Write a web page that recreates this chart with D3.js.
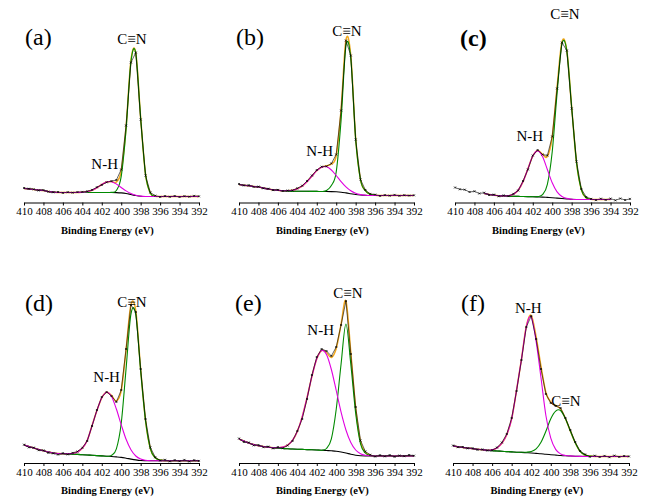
<!DOCTYPE html>
<html>
<head>
<meta charset="utf-8">
<script src="https://cdn.jsdelivr.net/npm/d3@7/dist/d3.min.js"></script>
<style>
  body { margin: 0; background: #fff; }
  svg { display: block; }
  .tick text { font-family: "Liberation Serif", "Times New Roman", serif; font-size: 11px; }
</style>
</head>
<body>
<svg id="chart" width="645" height="504"></svg>
<script>
// N 1s XPS spectra, six samples (a)-(f)
// binding energy grid (eV), shared by every curve
const energy = [410, 409.5, 409, 408.5, 408, 407.5, 407, 406.5, 406, 405.5, 405, 404.5, 404,
  403.5, 403, 402.5, 402, 401.5, 401, 400.5, 400, 399.5, 399, 398.5, 398, 397.5, 397,
  396.5, 396, 395.5, 395, 394.5, 394, 393.5, 393, 392.5, 392];

const panelNames = ['(a)', '(b)', '(c)', '(d)', '(e)', '(f)'];
const tickValues = [410, 408, 406, 404, 402, 400, 398, 396, 394, 392];

// measured intensity (a.u.)
const rawA = [14.5,13.8,13.2,12,12.4,10.8,10.2,10.5,9.6,10.3,9.8,10.4,10.6,11.2,12.6,15.3,17.6,20.2,21.4,22.5,33,77,140,150,83,27,10,6.8,5.6,6.4,5.7,6.5,5.5,6.3,5.8,6.6,6.2];
const rawB = [18.5,17,17.3,15.6,15.9,14.2,13.8,12.4,12.6,11.5,12,12.1,14.2,16.8,21.5,27,32.5,35.8,36.2,39,48,92,162,147,63,23,12.5,8.6,7.9,6.6,7.4,6.8,7.6,6.7,7.3,6.9,7.2];
const rawC = [15,13.2,12.8,10.5,11.2,9,9.8,7.5,7.9,6.2,7.1,6.4,8.6,12,21.5,33,47,52.5,48,47,66,114,160,152,94,41,13.5,5.5,3.6,2.4,3.8,2.6,3.9,2.2,4,2.5,3.6];
const rawD = [18.3,15.6,15.4,12.8,12.6,10.2,9.6,8.4,9.8,8.6,10.1,11.5,15.2,22,37,53,66,71,67,61,73,114,158,151,94,44,15.5,5.8,2.4,3.2,1.6,2.9,1.8,3.1,1.5,2.8,2.1];
const rawE = [24.5,21,20.5,17.6,18,15.8,16.4,14.6,15.9,14.8,17.5,22,32,44,64,88,106,114,112,107,116,138,162,109,56,22.5,11.5,8.2,6.4,7.8,6.6,7.9,6.2,7.5,6.8,8,7.3];
const rawF = [17.5,15.8,16,14.6,14.8,13.2,13.6,12.4,12.8,15.5,20.5,29,45,72,103,136,147,124,94,69,60,57,55,45,33,21,12,8.6,6.2,7.3,6,7.1,5.8,7.4,6.1,7,6.6];

// Shirley background
const bgA = [14,13.5,13,12.5,12,11,10.5,10,10,10,10,10,10,10,10,10,10,10,10,9.9,9.6,9,8,7,6.3,6,6,6,6,6,6,6,6,6,6,6,6];
const bgB = [18,17.3,16.8,16,15.5,14.5,13.5,12.7,12.2,11.7,11.4,11.3,11.3,11.2,11.2,11.1,11.1,11,11,10.9,10.7,10.3,9.6,8.8,8,7.5,7.2,7,7,7,7,7,7,7,7,7,7];
const bgC = [14,13,12,11,10.3,9.6,9,8,7.3,6.8,6.5,6.3,6.2,6.1,6,5.9,5.8,5.6,5.4,5.1,4.8,4.4,4,3.6,3.2,3,3,3,3,3,3,3,3,3,3,3,3];
const bgD = [18,16.5,15,13.5,12.3,11,10,9.5,9.2,9,8.8,8.6,8.3,8,7.7,7.4,7.1,6.8,6.5,6.1,5.6,4.8,3.9,3.1,2.5,2.3,2.2,2.2,2.2,2.2,2.2,2.2,2.2,2.2,2.2,2.2,2.2];
const bgE = [24,22,20,18.5,17.3,16.5,15.8,15.2,14.8,14.5,14.2,14,13.8,13.6,13.4,13.2,13,12.8,12.5,12.2,11.8,11,10,8.8,7.8,7.2,7,7,7,7,7,7,7,7,7,7,7];
const bgF = [17,16.3,15.6,15,14.3,13.8,13.3,12.8,12.3,12,11.7,11.4,11.1,10.8,10.6,10.3,10,9.6,9.2,8.7,8.3,7.9,7.5,7.2,7,6.8,6.6,6.5,6.5,6.5,6.5,6.5,6.5,6.5,6.5,6.5,6.5];

// fitted N-H component (above background)
const nhA = [0,0,0,0,0,0,0,0,0,0,0,0.1,0.2,0.8,2.2,4.7,8,10.5,10.8,8.6,5.4,2.6,1,0.3,0.1,0,0,0,0,0,0,0,0,0,0,0,0];
const nhB = [0,0,0,0,0,0,0,0,0,0.1,0.4,1,2.5,5.2,9.6,15.2,20.7,24.3,24.7,21.6,16.3,10.6,6,2.9,1.2,0.4,0.1,0,0,0,0,0,0,0,0,0,0];
const nhC = [0,0,0,0,0,0,0,0,0,0,0.1,0.5,2,6.2,14.9,27.9,40.6,46,40.6,27.9,14.9,6.2,2,0.5,0.1,0,0,0,0,0,0,0,0,0,0,0,0];
const nhD = [0,0,0,0,0,0,0,0,0.1,0.3,0.8,2.5,6.5,14.5,29.7,45,58.1,64,60,47.9,32.7,18.9,9.4,3.9,1.4,0.4,0.1,0,0,0,0,0,0,0,0,0,0];
const nhE = [0,0,0,0,0,0,0,0.1,0.5,1.4,3.7,8.6,17.8,32.5,52,73.4,91.2,99.7,96,81.3,60.7,39.8,23,11.7,5.2,2.1,0.7,0.2,0,0,0,0,0,0,0,0,0];
const nhF = [0,0,0,0,0,0,0,0,0.8,3,8,17,33,62,93,126,136,112,76,38.8,16.6,5.7,1.6,0.3,0.1,0,0,0,0,0,0,0,0,0,0,0,0];

// fitted C≡N component (above background)
const cnA = [0,0,0,0,0,0,0,0,0,0,0,0,0,0,0,0,0,0,0.1,2.1,16.5,64,133,142,78,22.3,3.4,0.3,0,0,0,0,0,0,0,0,0];
const cnB = [0,0,0,0,0,0,0,0,0,0,0,0,0,0,0,0,0,0,1,6,20,72,147,135,55,15,4.5,1.2,0.3,0,0,0,0,0,0,0,0];
const cnC = [0,0,0,0,0,0,0,0,0,0,0,0,0,0,0,0,0,0.3,2.4,13.1,46,104.7,154.6,148,92,37,9.7,1.6,0.2,0,0,0,0,0,0,0,0];
const cnD = [0,0,0,0,0,0,0,0,0,0,0,0,0,0,0,0,0,0,1.1,8,34.1,89.6,145,145,89.6,40,12,3,0.8,0.1,0,0,0,0,0,0,0];
const cnE = [0,0,0,0,0,0,0,0,0,0,0,0,0,0,0,0,0,0,2,12,42,88,129,90,42,12,3,0.5,0,0,0,0,0,0,0,0,0];
const cnF = [0,0,0,0,0,0,0,0,0,0,0,0,0,0,0.1,0.5,1.5,4.5,11.5,23,36,44,45,37,25,13.5,5,1.5,0.4,0,0,0,0,0,0,0,0];

// fit window per panel (eV)
const fitFrom = [410, 410, 407, 410, 410, 410];
const fitTo = [392, 392, 394, 392, 392, 392];

const raws = [rawA, rawB, rawC, rawD, rawE, rawF];
const bgs = [bgA, bgB, bgC, bgD, bgE, bgF];
const nhs = [nhA, nhB, nhC, nhD, nhE, nhF];
const cns = [cnA, cnB, cnC, cnD, cnE, cnF];

// layout of the six panels
const layout = [
  { x0: 24, w: 175, axisY: 202.5, lab: [1, 45], cnNote: [398.9, 159], nhNote: [401.7, 34] },
  { x0: 239, w: 175, axisY: 202.5, lab: [-3, 45], cnNote: [398.9, 167], nhNote: [401.7, 47] },
  { x0: 455, w: 175, axisY: 202.5, lab: [5, 46], cnNote: [398.7, 184], nhNote: [402.3, 62] },
  { x0: 24, w: 175, axisY: 463, lab: [1, 311], cnNote: [398.9, 156], nhNote: [401.5, 81] },
  { x0: 239, w: 175, axisY: 463, lab: [-4, 311], cnNote: [398.8, 165], nhNote: [401.6, 128] },
  { x0: 453, w: 176, axisY: 463, lab: [8, 311], cnNote: [398.45, 57], nhNote: [402.3, 150] }
];

const colors = { raw: '#000', bg: '#000', nh: '#e000e0', cn: '#008a00', env: '#f2a81e' };
const serif = '"Liberation Serif", "Times New Roman", serif';

const svg = d3.select('#chart');

panelNames.forEach((name, p) => {
  const L = layout[p];
  const x = d3.scaleLinear().domain([410, 392]).range([L.x0, L.x0 + L.w]);
  const y = d3.scaleLinear().domain([0, 160]).range([L.axisY, L.axisY - 160]);
  const g = svg.append('g');

  const rows = energy.map((e, i) => ({
    e,
    raw: raws[p][i],
    bg: bgs[p][i],
    nh: bgs[p][i] + nhs[p][i],
    cn: bgs[p][i] + cns[p][i],
    env: bgs[p][i] + nhs[p][i] + cns[p][i]
  }));
  const fitRows = rows.filter(d => d.e <= fitFrom[p] && d.e >= fitTo[p]);

  const smooth = key => d3.line()
    .x(d => x(d.e))
    .y(d => y(d[key]))
    .curve(d3.curveCardinal.tension(0));

  // x axis
  const axis = d3.axisBottom(x)
    .tickValues(tickValues)
    .tickFormat(d3.format('d'))
    .tickSize(3)
    .tickSizeOuter(0)
    .tickPadding(2);
  const ax = g.append('g')
    .attr('transform', `translate(0,${L.axisY})`)
    .call(axis);
  ax.select('.domain').attr('stroke', '#000');
  ax.selectAll('.tick text').attr('fill', '#000');

  g.append('text')
    .attr('x', L.x0 + L.w / 2 - 4)
    .attr('y', L.axisY + 31)
    .attr('text-anchor', 'middle')
    .style('font-family', serif)
    .style('font-size', '10.5px')
    .style('font-weight', 'bold')
    .text('Binding Energy (eV)');

  // fits: envelope underneath, then background and components
  ['env', 'bg', 'cn', 'nh'].forEach(key => {
    g.append('path')
      .datum(fitRows)
      .attr('fill', 'none')
      .attr('stroke', colors[key])
      .attr('stroke-width', key === 'env' ? 1.5 : 1.1)
      .attr('d', smooth(key));
  });

  // measured spectrum
  g.append('path')
    .datum(rows)
    .attr('fill', 'none')
    .attr('stroke', colors.raw)
    .attr('stroke-width', 0.6)
    .attr('d', d3.line().x(d => x(d.e)).y(d => y(d.raw)));

  g.selectAll('.pt')
    .data(rows)
    .enter().append('path')
    .attr('class', 'pt')
    .attr('stroke', '#000')
    .attr('stroke-width', 0.7)
    .attr('d', d => `M${x(d.e) - 1},${y(d.raw) - 1}l2,2M${x(d.e) + 1},${y(d.raw) - 1}l-2,2`);

  // labels
  g.append('text')
    .attr('x', L.x0 + L.lab[0])
    .attr('y', L.lab[1])
    .style('font-family', serif)
    .style('font-size', '24px')
    .style('font-weight', p === 2 ? 'bold' : 'normal')
    .text(name);

  [['C≡N', L.cnNote], ['N-H', L.nhNote]].forEach(([txt, pos]) => {
    g.append('text')
      .attr('x', x(pos[0]))
      .attr('y', y(pos[1]))
      .attr('text-anchor', 'middle')
      .style('font-family', serif)
      .style('font-size', '15px')
      .text(txt);
  });
});
</script>
</body>
</html>
